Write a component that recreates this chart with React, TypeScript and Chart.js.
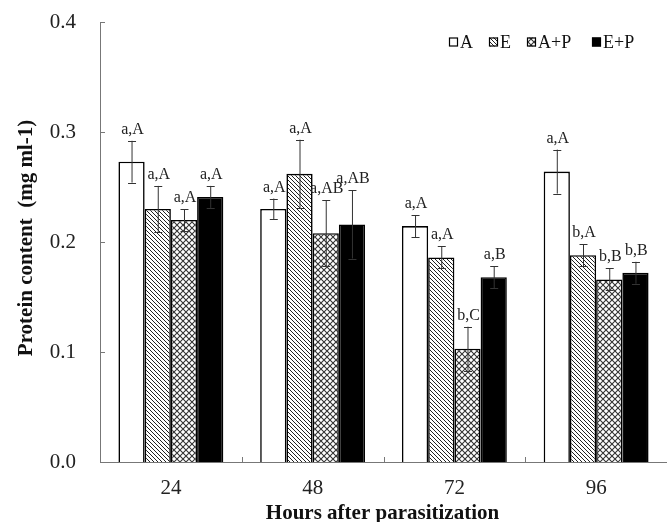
import React, { useEffect, useRef } from "react";
import { Chart, registerables } from "chart.js";
Chart.register(...registerables);

const categories = ["24", "48", "72", "96"];
const seriesNames = ["A", "E", "A+P", "E+P"];
const valuesA = [0.273, 0.23, 0.2145, 0.264];
const valuesE = [0.23, 0.262, 0.186, 0.188];
const valuesAP = [0.22, 0.208, 0.103, 0.166];
const valuesEP = [0.241, 0.216, 0.168, 0.172];
const errA = [0.019, 0.0095, 0.01, 0.02];
const errE = [0.021, 0.031, 0.01, 0.01];
const errAP = [0.01, 0.03, 0.02, 0.01];
const errEP = [0.01, 0.031, 0.01, 0.01];
const labelsA = ["a,A", "a,A", "a,A", "a,A"];
const labelsE = ["a,A", "a,A", "a,A", "b,A"];
const labelsAP = ["a,A", "a,AB", "b,C", "b,B"];
const labelsEP = ["a,A", "a,AB", "a,B", "b,B"];
const yMin = 0;
const yMax = 0.4;
const yStep = 0.1;
const yTitle = "Protein content  (mg ml-1)";
const xTitle = "Hours after parasitization";

const SERIF = '"Liberation Serif", "Times New Roman", serif';

function makeDiagPattern(): CanvasPattern | string {
  const c = document.createElement("canvas");
  c.width = 4;
  c.height = 4;
  const g = c.getContext("2d")!;
  g.fillStyle = "#fff";
  g.fillRect(0, 0, 4, 4);
  g.strokeStyle = "#222";
  g.lineWidth = 1;
  g.beginPath();
  g.moveTo(-1, -1);
  g.lineTo(5, 5);
  g.moveTo(-1, 3);
  g.lineTo(1, 5);
  g.moveTo(3, -1);
  g.lineTo(5, 1);
  g.stroke();
  return g.createPattern(c, "repeat") || "#888";
}

function makeCrossPattern(): CanvasPattern | string {
  const s = 6;
  const c = document.createElement("canvas");
  c.width = s;
  c.height = s;
  const g = c.getContext("2d")!;
  g.fillStyle = "#fff";
  g.fillRect(0, 0, s, s);
  g.strokeStyle = "#333";
  g.lineWidth = 1.1;
  g.beginPath();
  g.moveTo(-1, -1);
  g.lineTo(s + 1, s + 1);
  g.moveTo(-1, s + 1);
  g.lineTo(s + 1, -1);
  g.stroke();
  return g.createPattern(c, "repeat") || "#aaa";
}

export default function App() {
  const ref = useRef<HTMLCanvasElement>(null);
  useEffect(() => {
    const canvas = ref.current!;
    const diag = makeDiagPattern();
    const cross = makeCrossPattern();
    const fills: any[] = ["#ffffff", diag, cross, "#000000"];
    const values = [valuesA, valuesE, valuesAP, valuesEP];
    const errs = [errA, errE, errAP, errEP];
    const labs = [labelsA, labelsE, labelsAP, labelsEP];

    const overlay = {
      id: "overlay",
      afterDatasetsDraw(chart: any) {
        const ctx = chart.ctx;
        const ys = chart.scales.y;
        ctx.save();
        for (let d = 0; d < values.length; d++) {
          const meta = chart.getDatasetMeta(d);
          meta.data.forEach((el: any, j: number) => {
            const v = values[d][j];
            const e = errs[d][j];
            const x = el.x;
            const yt = ys.getPixelForValue(v + e);
            const yb = ys.getPixelForValue(v - e);
            ctx.strokeStyle = "#333";
            ctx.lineWidth = 1;
            ctx.beginPath();
            ctx.moveTo(x + 0.5, yt);
            ctx.lineTo(x + 0.5, yb);
            ctx.moveTo(x - 3.5, Math.round(yt) + 0.5);
            ctx.lineTo(x + 4.5, Math.round(yt) + 0.5);
            ctx.moveTo(x - 3.5, Math.round(yb) + 0.5);
            ctx.lineTo(x + 4.5, Math.round(yb) + 0.5);
            ctx.stroke();
            ctx.fillStyle = "#222";
            ctx.font = `16px ${SERIF}`;
            ctx.textAlign = "center";
            ctx.textBaseline = "alphabetic";
            ctx.fillText(labs[d][j], x + 1, yt - 7);
          });
        }
        ctx.restore();
      },
      afterDraw(chart: any) {
        const ctx = chart.ctx;
        const ys = chart.scales.y;
        const xs = chart.scales.x;
        const area = chart.chartArea;
        ctx.save();
        ctx.strokeStyle = "#777";
        ctx.lineWidth = 1;
        ctx.beginPath();
        for (let v = yMin; v <= yMax + 1e-9; v += yStep) {
          const y = Math.round(ys.getPixelForValue(v)) + 0.5;
          ctx.moveTo(area.left, y);
          ctx.lineTo(area.left + 5, y);
        }
        for (let i = 0; i < categories.length - 1; i++) {
          const x = Math.round((xs.getPixelForValue(i) + xs.getPixelForValue(i + 1)) / 2) + 0.5;
          ctx.moveTo(x, area.bottom);
          ctx.lineTo(x, area.bottom - 5);
        }
        ctx.stroke();
        ctx.fillStyle = "#111";
        ctx.font = `bold 21px ${SERIF}`;
        ctx.textAlign = "center";
        ctx.textBaseline = "alphabetic";
        ctx.fillText(xTitle, (area.left + area.right) / 2 - 1, 519);
        ctx.save();
        ctx.translate(32, 238);
        ctx.rotate(-Math.PI / 2);
        ctx.font = `bold 21px ${SERIF}`;
        ctx.fillText(yTitle, 0, 0);
        ctx.restore();
        const boxX = [449, 489, 527, 592];
        const cy = 42;
        ctx.font = `18px ${SERIF}`;
        ctx.textAlign = "left";
        ctx.textBaseline = "middle";
        for (let i = 0; i < seriesNames.length; i++) {
          ctx.fillStyle = fills[i];
          ctx.fillRect(boxX[i], cy - 4.5, 9, 9);
          ctx.strokeStyle = "#000";
          ctx.lineWidth = 1.2;
          ctx.strokeRect(boxX[i] + 0.5, cy - 4, 8, 8);
          ctx.fillStyle = "#111";
          ctx.fillText(seriesNames[i], boxX[i] + 11, cy + 1);
        }
        ctx.restore();
      },
    };

    const chart = new Chart(canvas, {
      type: "bar",
      data: {
        labels: categories,
        datasets: seriesNames.map((n, i) => ({
          label: n,
          data: values[i],
          backgroundColor: fills[i],
          borderColor: "#000",
          borderWidth: 1.6,
          categoryPercentage: 0.74,
          barPercentage: 1.0,
        })),
      },
      options: {
        responsive: false,
        animation: false,
        devicePixelRatio: 1,
        layout: { padding: { left: 0, top: 22, right: 0, bottom: 0 } },
        plugins: { legend: { display: false }, tooltip: { enabled: false } },
        scales: {
          x: {
            grid: { display: false, drawTicks: false },
            border: { display: true, color: "#777", width: 1 },
            ticks: { color: "#222", font: { family: SERIF, size: 21 }, padding: 14 },
            afterFit: (s: any) => {
              s.height = 60;
              s.paddingLeft = 0;
              s.paddingRight = 0;
            },
          },
          y: {
            min: yMin,
            max: yMax,
            grid: { display: false, drawTicks: false },
            border: { display: true, color: "#777", width: 1 },
            ticks: {
              stepSize: yStep,
              color: "#222",
              font: { family: SERIF, size: 21 },
              padding: 24,
              callback: (v: any) => Number(v).toFixed(1),
            },
            afterFit: (s: any) => {
              s.width = 100;
              s.paddingTop = 0;
              s.paddingBottom = 0;
            },
          },
        },
      },
      plugins: [overlay],
    } as any);
    return () => chart.destroy();
  }, []);
  return (
    <div style={{ position: "absolute", left: 0, top: 0, width: 667, height: 522, background: "#fff" }}>
      <canvas ref={ref} width={667} height={522} />
    </div>
  );
}
